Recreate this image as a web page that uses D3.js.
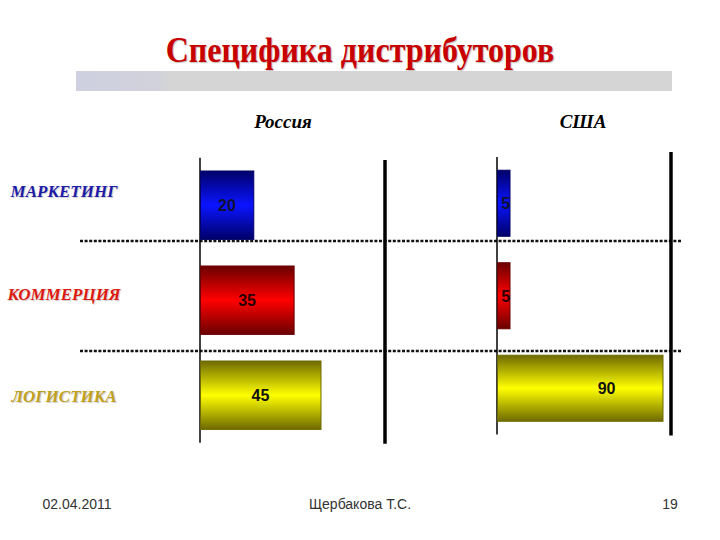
<!DOCTYPE html>
<html>
<head>
<meta charset="utf-8">
<script src="https://cdn.jsdelivr.net/npm/d3@7"></script>
<style>
  body { margin: 0; background: #fff; }
  svg { display: block; }
</style>
</head>
<body>
<svg id="chart" width="720" height="540"></svg>
<script>
// Data
const categories = ['МАРКЕТИНГ', 'КОММЕРЦИЯ', 'ЛОГИСТИКА'];
const countries = ['Россия', 'США'];
const russiaValues = [20, 35, 45];
const usaValues = [5, 5, 90];
const footerTexts = ['02.04.2011', 'Щербакова Т.С.', '19'];
const titleText = 'Специфика дистрибуторов';

const svg = d3.select('#chart');
const defs = svg.append('defs');

// Colours per category: edge (dark) / middle (bright) / label colour
const palette = {
	'МАРКЕТИНГ': { dark: '#000068', light: '#0a14ff', label: '#1c1ca8', text: '#101030' },
	'КОММЕРЦИЯ': { dark: '#6a0000', light: '#ff0000', label: '#dd1a10', text: '#2a0000' },
	'ЛОГИСТИКА': { dark: '#6e6a00', light: '#ffff00', label: '#c0a020', text: '#111' }
};

// Vertical gradients - dark top/bottom, bright middle
categories.forEach((c, i) => {
	const g = defs.append('linearGradient')
		.attr('id', 'grad' + i)
		.attr('x1', 0).attr('x2', 0).attr('y1', 0).attr('y2', 1);
	g.append('stop').attr('offset', '0%').attr('stop-color', palette[c].dark);
	g.append('stop').attr('offset', '50%').attr('stop-color', palette[c].light);
	g.append('stop').attr('offset', '100%').attr('stop-color', palette[c].dark);
});

// Gray strip under the title (bluish at the left)
const strip = defs.append('linearGradient').attr('id', 'strip');
strip.append('stop').attr('offset', '0%').attr('stop-color', '#cfd0e0');
strip.append('stop').attr('offset', '14%').attr('stop-color', '#d2d2dc');
strip.append('stop').attr('offset', '16%').attr('stop-color', '#d5d5d5');
strip.append('stop').attr('offset', '100%').attr('stop-color', '#d5d5d5');

// Title (slightly stretched vertically like the slide font)
svg.append('text')
	.attr('transform', 'translate(360,62) scale(1,1.12)')
	.attr('text-anchor', 'middle')
	.style('font-family', '"Liberation Serif", "Times New Roman", serif')
	.style('font-weight', 'bold')
	.style('font-size', '32px')
	.style('fill', '#c80000')
	.style('text-shadow', '1px 1px 1px rgba(0,0,0,0.25)')
	.text(titleText);

svg.append('rect')
	.attr('x', 76).attr('y', 71)
	.attr('width', 596).attr('height', 20)
	.attr('fill', 'url(#strip)');

// Panel settings - each country has its own scale
const panels = [
	{ name: countries[0], values: russiaValues,
		x: d3.scaleLinear().domain([0, 45]).range([200, 321]),
		y: d3.scaleBand().domain(categories).range([157.7, 442.7]).paddingInner(0.28).paddingOuter(0.14),
		axisX: 200, frameX: 385, frameTop: 160, headX: 283, labelPos: 0.5 },
	{ name: countries[1], values: usaValues,
		x: d3.scaleLinear().domain([0, 90]).range([501, 663]),
		y: d3.scaleBand().domain(categories).range([157, 434.5]).paddingInner(0.286).paddingOuter(0.143),
		axisX: 497, frameX: 671, frameTop: 152, headX: 583, labelPos: 0.66 }
];

// Dotted separators between categories (drawn first, behind bars)
const yRef = panels[0].y;
const separators = [yRef(categories[1]) - 25, yRef(categories[2]) - 10];
svg.selectAll('.sep')
	.data(separators)
	.enter().append('line')
	.attr('class', 'sep')
	.attr('x1', 80).attr('x2', 681)
	.attr('y1', d => d).attr('y2', d => d)
	.attr('stroke', '#111')
	.attr('stroke-width', 2.5)
	.attr('stroke-dasharray', '3,1.6');

panels.forEach(p => {
	const g = svg.append('g').attr('class', 'panel');
	const [top, bottom] = p.y.range();

	// Country heading
	g.append('text')
		.attr('x', p.headX)
		.attr('y', 128)
		.attr('text-anchor', 'middle')
		.style('font-family', '"Liberation Serif", "Times New Roman", serif')
		.style('font-style', 'italic')
		.style('font-weight', 'bold')
		.style('font-size', '19px')
		.style('fill', '#000')
		.text(p.name);

	// Thin axis line at zero
	g.append('line')
		.attr('x1', p.axisX).attr('x2', p.axisX)
		.attr('y1', top).attr('y2', bottom)
		.attr('stroke', '#000').attr('stroke-width', 1.5);

	// Thick frame line at the right
	g.append('line')
		.attr('x1', p.frameX).attr('x2', p.frameX)
		.attr('y1', p.frameTop).attr('y2', bottom + 1)
		.attr('stroke', '#000').attr('stroke-width', 3.5);

	const rows = p.values.map((v, i) => ({ cat: categories[i], value: v, i }));

	g.selectAll('.bar')
		.data(rows)
		.enter().append('rect')
		.attr('class', 'bar')
		.attr('x', p.axisX + 0.5)
		.attr('y', d => p.y(d.cat))
		.attr('width', d => p.x(d.value) - p.axisX - 0.5)
		.attr('height', p.y.bandwidth())
		.attr('fill', d => 'url(#grad' + d.i + ')')
		.attr('stroke', d => palette[d.cat].dark)
		.attr('stroke-width', 1);

	g.selectAll('.val')
		.data(rows)
		.enter().append('text')
		.attr('class', 'val')
		.attr('x', d => p.axisX + (p.x(d.value) - p.axisX) * p.labelPos)
		.attr('y', d => p.y(d.cat) + p.y.bandwidth() / 2 + 6)
		.attr('text-anchor', 'middle')
		.style('font-family', '"Liberation Sans", Arial, sans-serif')
		.style('font-weight', 'bold')
		.style('font-size', '16px')
		.style('fill', d => palette[d.cat].text)
		.text(d => d.value);
});

// Category labels on the left
const yLab = panels[0].y;
svg.selectAll('.cat')
	.data(categories)
	.enter().append('text')
	.attr('class', 'cat')
	.attr('x', 64)
	.attr('y', (d, i) => yLab(d) + yLab.bandwidth() / 2 - 8 + i * 7.5)
	.attr('text-anchor', 'middle')
	.style('font-family', '"Liberation Serif", "Times New Roman", serif')
	.style('font-style', 'italic')
	.style('font-weight', 'bold')
	.style('font-size', '17px')
	.style('fill', d => palette[d].label)
	.style('text-shadow', '1px 1px 1px rgba(0,0,0,0.2)')
	.text(d => d);

// Footer
const footerX = [77, 360, 670];
svg.selectAll('.foot')
	.data(footerTexts)
	.enter().append('text')
	.attr('class', 'foot')
	.attr('x', (d, i) => footerX[i])
	.attr('y', 509)
	.attr('text-anchor', 'middle')
	.style('font-family', '"Liberation Sans", Arial, sans-serif')
	.style('font-size', '14px')
	.style('fill', '#333')
	.text(d => d);
</script>
</body>
</html>
